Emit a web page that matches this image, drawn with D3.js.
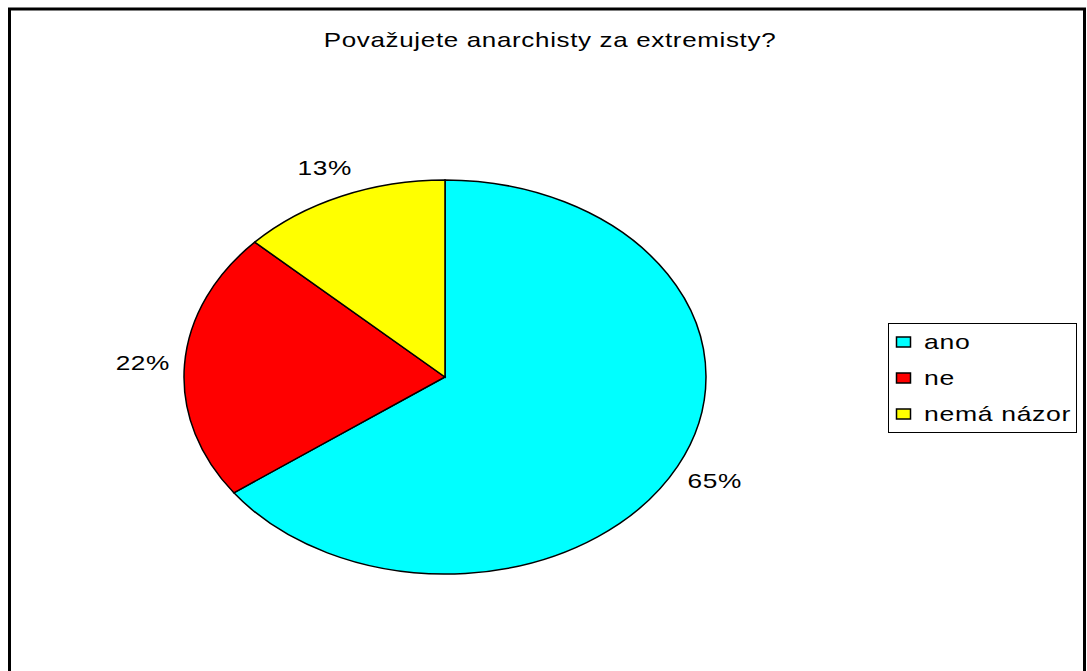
<!DOCTYPE html>
<html>
<head>
<meta charset="utf-8">
<script src="https://cdn.jsdelivr.net/npm/d3@7"></script>
<style>
  body { margin: 0; padding: 0; background: #fff; }
  svg { display: block; }
</style>
</head>
<body>
<div class="canvas"></div>
<script>
"use strict";

const title = "Považujete anarchisty za extremisty?";
const categories = ["ano", "ne", "nemá názor"];
const values = [65, 22, 13];
const colors = ["#00FFFF", "#FF0000", "#FFFF00"];

const W = 1087, H = 671;
const font = "Arial, 'Liberation Sans', sans-serif";

const svg = d3.select(".canvas")
  .append("svg")
  .attr("width", W)
  .attr("height", H)
  .style("background-color", "#fff");

// outer frame (bottom edge runs off the picture)
svg.append("rect")
  .attr("x", 9.5)
  .attr("y", 9)
  .attr("width", 1075)
  .attr("height", 700)
  .attr("fill", "none")
  .attr("stroke", "#000")
  .attr("stroke-width", 3);

// the original text is drawn wide, so stretch it horizontally
svg.append("text")
  .attr("transform", "translate(550,47) scale(1.3,1)")
  .attr("text-anchor", "middle")
  .style("font-family", font)
  .style("font-size", "20px")
  .style("letter-spacing", "0.5px")
  .attr("fill", "#000")
  .text(title);

// pie, drawn as a circle and squashed into an ellipse
const cx = 445, cy = 377, rx = 261, ry = 197;
const pie = d3.pie().sort(null).value((d) => d)(values);
const arc = d3.arc().innerRadius(0).outerRadius(rx);
const labelArc = d3.arc().innerRadius(rx * 1.16).outerRadius(rx * 1.16);

const pieG = svg.append("g")
  .attr("transform", `translate(${cx},${cy}) scale(1,${ry / rx})`);

pieG.selectAll("path")
  .data(pie)
  .enter()
  .append("path")
  .attr("d", arc)
  .attr("fill", (d, i) => colors[i])
  .attr("stroke", "#000")
  .attr("stroke-width", 1.5)
  .attr("vector-effect", "non-scaling-stroke");

svg.append("g")
  .selectAll("text")
  .data(pie)
  .enter()
  .append("text")
  .attr("transform", (d) => {
    const c = labelArc.centroid(d);
    const x = cx + c[0];
    const y = cy + c[1] * ry / rx;
    return `translate(${x},${y}) scale(1.25,1)`;
  })
  .attr("text-anchor", "middle")
  .attr("dominant-baseline", "central")
  .style("font-family", font)
  .style("font-size", "21px")
  .style("letter-spacing", "0.5px")
  .attr("fill", "#000")
  .text((d) => d.data + "%");

// legend
const legend = svg.append("g").attr("transform", "translate(888,323)");
legend.append("rect")
  .attr("x", 0.5)
  .attr("y", 0.5)
  .attr("width", 188)
  .attr("height", 109)
  .attr("fill", "#fff")
  .attr("stroke", "#000")
  .attr("stroke-width", 1);

const rows = legend.selectAll("g.item")
  .data(categories)
  .enter()
  .append("g")
  .attr("class", "item")
  .attr("transform", (d, i) => `translate(0,${19 + i * 36})`);

rows.append("rect")
  .attr("x", 8.5)
  .attr("y", -5)
  .attr("width", 14)
  .attr("height", 10)
  .attr("fill", (d, i) => colors[i])
  .attr("stroke", "#000")
  .attr("stroke-width", 1.5);

rows.append("text")
  .attr("transform", "translate(36,0) scale(1.33,1)")
  .attr("dominant-baseline", "central")
  .style("font-family", font)
  .style("font-size", "20px")
  .style("letter-spacing", "0.5px")
  .attr("fill", "#000")
  .text((d) => d);
</script>
</body>
</html>
